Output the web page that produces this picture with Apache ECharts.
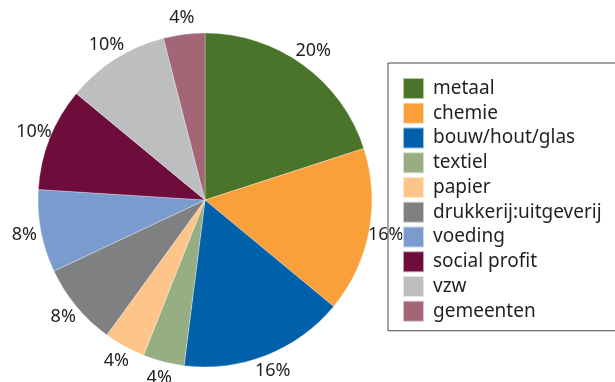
<!DOCTYPE html>
<html><head><meta charset="utf-8">
<script src="https://cdn.jsdelivr.net/npm/echarts@6/dist/echarts.min.js"></script>
<style>html,body{margin:0;padding:0;background:#fff}#c{width:615px;height:382px}</style>
</head><body><div id="c"></div>
<script>
const categories = ['metaal','chemie','bouw/hout/glas','textiel','papier','drukkerij:uitgeverij','voeding','social profit','vzw','gemeenten'];
const values = [20,16,16,4,4,8,8,10,10,4];
const colors = ['#4a7429','#f9a03a','#0061aa','#97ae83','#fdc589','#7f8082','#7a9bcd','#6e0d3b','#bdbec0','#a26677'];

const font = '"Noto Sans", sans-serif';
const data = categories.map((n,i)=>({name:n, value:values[i], itemStyle:{color:colors[i]}}));
const chart = echarts.init(document.getElementById('c'), null, {renderer:'canvas'});
chart.setOption({
  animation:false,
  legend:{
    orient:'vertical', left:388, top:63,
    borderColor:'#444', borderWidth:1,
    padding:[14,30,8,14],
    itemWidth:21, itemHeight:21, itemGap:1.75,
    icon:'rect',
    selectedMode:false,
    data:categories,
    textStyle:{fontFamily:font, fontSize:19, lineHeight:21, color:'#231f20', padding:[0,0,0,4]}
  },
  series:[
    {
      type:'pie', center:[205,200], radius:[0,167], startAngle:90, clockwise:true,
      data:data, silent:true,
      label:{show:false}, labelLine:{show:false},
      itemStyle:{borderColor:'rgba(255,255,255,0.6)', borderWidth:0.5}
    },
    {
      type:'pie', center:[205,200], radius:[172,190], startAngle:90, clockwise:true,
      data:categories.map((n,i)=>({name:n, value:values[i]})), silent:true,
      itemStyle:{color:'rgba(0,0,0,0)'},
      label:{show:true, position:'inside', formatter:'{c}%', fontFamily:font, fontSize:18, color:'#231f20'},
      labelLine:{show:false}
    }
  ]
});
</script></body></html>
